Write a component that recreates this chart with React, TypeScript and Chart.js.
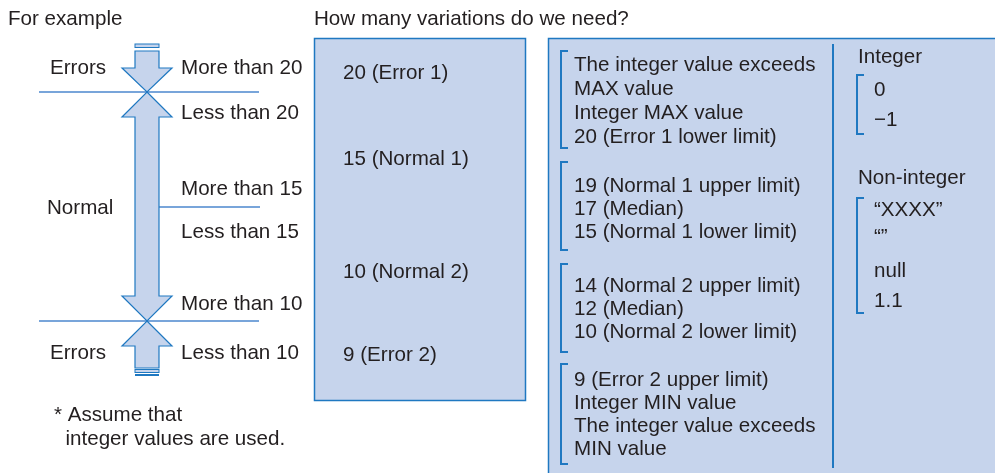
import React, { useEffect, useRef } from "react";
import { Chart, registerables } from "chart.js";

Chart.register(...registerables);

// ---- content (texts) ----
const headings = ["For example", "How many variations do we need?"];
const leftLabels = ["Errors", "Normal", "Errors"];
const boundaryLabels = [
  "More than 20",
  "Less than 20",
  "More than 15",
  "Less than 15",
  "More than 10",
  "Less than 10",
];
const noteLines = ["* Assume that", "  integer values are used."];
const representativeValues = ["20 (Error 1)", "15 (Normal 1)", "10 (Normal 2)", "9 (Error 2)"];
const boundaryGroup1 = ["The integer value exceeds", "MAX value", "Integer MAX value", "20 (Error 1 lower limit)"];
const boundaryGroup2 = ["19 (Normal 1 upper limit)", "17 (Median)", "15 (Normal 1 lower limit)"];
const boundaryGroup3 = ["14 (Normal 2 upper limit)", "12 (Median)", "10 (Normal 2 lower limit)"];
const boundaryGroup4 = ["9 (Error 2 upper limit)", "Integer MIN value", "The integer value exceeds", "MIN value"];
const integerTitle = "Integer";
const integerValues = ["0", "\u22121"];
const nonIntegerTitle = "Non-integer";
const nonIntegerValues = ["\u201CXXXX\u201D", "\u201C\u201D", "null", "1.1"];

// ---- layout (positions in canvas units, mapped through scales) ----
const W = 995;
const H = 473;
const headingPos = [[8, 25], [314, 25]];
const leftLabelPos = [[50, 74], [47, 214], [50, 359]];
const boundaryLabelX = 181;
const boundaryLabelY = [74, 119, 195, 238, 310, 359];
const notePos = [[54, 421], [54, 445]];
const repX = 343;
const repY = [79, 165, 278, 361];
const groupX = 574;
const groupBaselines = [
  [71, 95, 119, 143],
  [192, 215, 238],
  [292, 315, 338],
  [386, 409, 432, 455],
];
const groupBrackets = [[51, 148], [162, 250], [264, 352], [364, 464]];
const groupBracketX = 561;
const colTitleX = 858;
const integerTitleY = 63;
const integerY = [96, 126];
const nonIntegerTitleY = 184;
const nonIntegerY = [216, 243, 277, 307];
const colValueX = 874;
const colBracketX = 857;
const integerBracket = [75, 134];
const nonIntegerBracket = [198, 313];

const FILL = "#c6d4ec";
const EDGE = "#1f78c1";
const LINE = "#78a5da";
const TEXT = "#231f20";
const FONT = '20.6px "Liberation Sans", Arial, Helvetica, sans-serif';

const diagramPlugin = {
  id: "diagram",
  afterDraw(chart: any) {
    const ctx = chart.ctx as CanvasRenderingContext2D;
    const xs = chart.scales.x;
    const ys = chart.scales.y;
    const px = (v: number) => xs.getPixelForValue(v);
    const py = (v: number) => ys.getPixelForValue(v);

    ctx.save();
    // boxes
    const rect = (x0: number, y0: number, x1: number, y1: number) => {
      ctx.fillStyle = FILL;
      ctx.fillRect(px(x0), py(y0), px(x1) - px(x0), py(y1) - py(y0));
      ctx.strokeStyle = EDGE;
      ctx.lineWidth = 1.5;
      ctx.strokeRect(px(x0), py(y0), px(x1) - px(x0), py(y1) - py(y0));
    };
    rect(314.5, 38.5, 525.5, 400.5);
    rect(548.5, 38.5, 1000, 480);

    // separator
    const line = (x0: number, y0: number, x1: number, y1: number, color: string, w: number) => {
      ctx.strokeStyle = color;
      ctx.lineWidth = w;
      ctx.beginPath();
      ctx.moveTo(px(x0), py(y0));
      ctx.lineTo(px(x1), py(y1));
      ctx.stroke();
    };
    line(833, 44, 833, 468, EDGE, 2);

    // brackets
    const bracket = (x: number, y0: number, y1: number) => {
      ctx.strokeStyle = EDGE;
      ctx.lineWidth = 2;
      ctx.beginPath();
      ctx.moveTo(px(x + 7), py(y0));
      ctx.lineTo(px(x), py(y0));
      ctx.lineTo(px(x), py(y1));
      ctx.lineTo(px(x + 7), py(y1));
      ctx.stroke();
    };
    groupBrackets.forEach(([a, b]) => bracket(groupBracketX, a, b));
    bracket(colBracketX, integerBracket[0], integerBracket[1]);
    bracket(colBracketX, nonIntegerBracket[0], nonIntegerBracket[1]);

    // horizontal boundary lines
    line(39, 92, 259, 92, LINE, 2);
    line(39, 321, 259, 321, LINE, 2);
    line(159, 207, 260, 207, LINE, 2);

    // arrows
    const poly = (pts: number[][]) => {
      ctx.beginPath();
      pts.forEach(([x, y], i) => (i ? ctx.lineTo(px(x), py(y)) : ctx.moveTo(px(x), py(y))));
      ctx.closePath();
      ctx.fillStyle = FILL;
      ctx.fill();
      ctx.strokeStyle = EDGE;
      ctx.lineWidth = 1.2;
      ctx.stroke();
    };
    const cx = 147;
    const sl = 135, sr = 159, hl = 122, hr = 172;
    // top arrow (down)
    poly([[sl, 51], [sr, 51], [sr, 68], [hr, 68], [cx, 92], [hl, 68], [sl, 68]]);
    // middle double arrow
    poly([[cx, 92], [hr, 117], [sr, 117], [sr, 296], [hr, 296], [cx, 321], [hl, 296], [sl, 296], [sl, 117], [hl, 117]]);
    // bottom arrow (up)
    poly([[cx, 321], [hr, 346], [sr, 346], [sr, 368], [sl, 368], [sl, 346], [hl, 346]]);
    // stripes
    const stripe = (y0: number, y1: number) => {
      ctx.fillStyle = FILL;
      ctx.fillRect(px(sl), py(y0), px(sr) - px(sl), py(y1) - py(y0));
      ctx.strokeStyle = EDGE;
      ctx.lineWidth = 1;
      ctx.strokeRect(px(sl), py(y0), px(sr) - px(sl), py(y1) - py(y0));
    };
    stripe(44, 47.5);
    stripe(369.5, 372.5);
    ctx.fillStyle = EDGE;
    ctx.fillRect(px(sl), py(374), px(sr) - px(sl), py(376) - py(374));

    // texts
    ctx.fillStyle = TEXT;
    ctx.font = FONT;
    ctx.textBaseline = "alphabetic";
    ctx.textAlign = "left";
    const t = (s: string, x: number, y: number) => ctx.fillText(s, px(x), py(y));
    headings.forEach((s, i) => t(s, headingPos[i][0], headingPos[i][1]));
    leftLabels.forEach((s, i) => t(s, leftLabelPos[i][0], leftLabelPos[i][1]));
    boundaryLabels.forEach((s, i) => t(s, boundaryLabelX, boundaryLabelY[i]));
    noteLines.forEach((s, i) => t(s, notePos[i][0], notePos[i][1]));
    representativeValues.forEach((s, i) => t(s, repX, repY[i]));
    [boundaryGroup1, boundaryGroup2, boundaryGroup3, boundaryGroup4].forEach((g, gi) =>
      g.forEach((s, i) => t(s, groupX, groupBaselines[gi][i]))
    );
    t(integerTitle, colTitleX, integerTitleY);
    integerValues.forEach((s, i) => t(s, colValueX, integerY[i]));
    t(nonIntegerTitle, colTitleX, nonIntegerTitleY);
    nonIntegerValues.forEach((s, i) => t(s, colValueX, nonIntegerY[i]));
    ctx.restore();
  },
};

export default function App() {
  const ref = useRef<HTMLCanvasElement>(null);
  useEffect(() => {
    document.body.style.margin = "0";
    const chart = new Chart(ref.current as HTMLCanvasElement, {
      type: "scatter",
      data: { datasets: [{ data: [] }] },
      options: {
        animation: false,
        responsive: false,
        layout: { padding: 0 },
        plugins: { legend: { display: false }, tooltip: { enabled: false } },
        scales: {
          x: { type: "linear", min: 0, max: W, display: false },
          y: { type: "linear", min: 0, max: H, reverse: true, display: false },
        },
      },
      plugins: [diagramPlugin],
    } as any);
    return () => chart.destroy();
  }, []);
  return (
    <div style={{ width: W, height: H, background: "#fff" }}>
      <canvas ref={ref} width={W} height={H} style={{ display: "block" }} />
    </div>
  );
}
